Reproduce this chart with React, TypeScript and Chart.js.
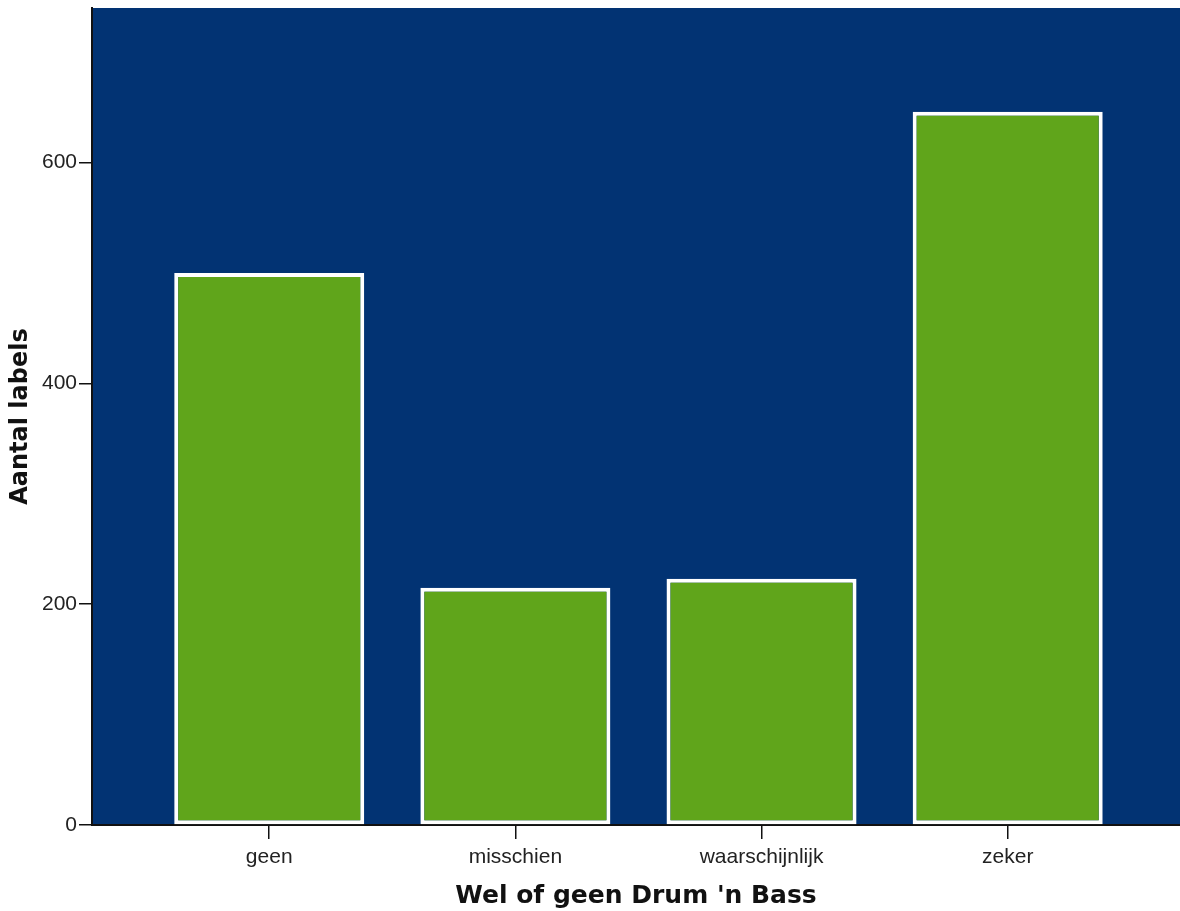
import React, { useEffect, useRef } from "react";
import { Chart, registerables } from "chart.js";

Chart.register(...registerables);

const categories = ["geen", "misschien", "waarschijnlijk", "zeker"];
const counts = [500, 215, 223, 646];
const yTicks = [0, 200, 400, 600];

const bgPlugin = {
  id: "plotBg",
  beforeDraw(chart: any) {
    const { ctx, chartArea } = chart;
    if (!chartArea) return;
    ctx.save();
    ctx.fillStyle = "#023373";
    ctx.fillRect(chartArea.left, chartArea.top, chartArea.right - chartArea.left, chartArea.bottom - chartArea.top);
    ctx.restore();
  },
};

export default function App() {
  const ref = useRef<HTMLCanvasElement>(null);
  useEffect(() => {
    if (!ref.current) return;
    const chart = new Chart(ref.current, {
      type: "bar",
      data: {
        datasets: [
          {
            data: counts.map((v, i) => ({ x: i, y: v })),
            backgroundColor: "#60a51b",
            borderColor: "#ffffff",
            borderWidth: 4,
            borderSkipped: false,
            barPercentage: 0.772,
            categoryPercentage: 1,
          },
        ],
      },
      options: {
        animation: false,
        responsive: false,
        maintainAspectRatio: false,
        layout: { padding: { top: 8, right: 0, left: 0, bottom: 0 } },
        plugins: { legend: { display: false }, tooltip: { enabled: false } },
        scales: {
          x: {
            type: "linear",
            offset: false,
            min: -0.72,
            max: 3.7,
            afterBuildTicks: (axis: any) => {
              axis.ticks = categories.map((_, i) => ({ value: i }));
            },
            afterFit: (scale: any) => {
              scale.height = 86;
              scale.paddingLeft = 0;
              scale.paddingRight = 0;
            },
            ticks: {
              autoSkip: false,
              maxRotation: 0,
              padding: 6,
              color: "#222",
              font: { family: "Liberation Sans", size: 21 },
              callback: (v: any) => categories[Math.round(Number(v))] ?? "",
            },
            grid: { offset: false, drawOnChartArea: false, drawTicks: true, tickLength: 14, color: "#111", lineWidth: 1.5 },
            border: { display: true, color: "#111", width: 2 },
            title: {
              display: true,
              text: "Wel of geen Drum 'n Bass",
              color: "#111",
              font: { family: "DejaVu Sans", size: 25, weight: "bold" },
              padding: { top: 2, bottom: 0 },
            },
          },
          y: {
            type: "linear",
            min: 0,
            max: 740,
            afterBuildTicks: (axis: any) => {
              axis.ticks = yTicks.map((v) => ({ value: v }));
            },
            afterFit: (scale: any) => {
              scale.width = 92;
              scale.paddingTop = 0;
              scale.paddingBottom = 0;
            },
            ticks: {
              padding: 2,
              color: "#222",
              font: { family: "Liberation Sans", size: 21 },
            },
            grid: { drawOnChartArea: false, drawTicks: true, tickLength: 13, color: "#111", lineWidth: 1.5 },
            border: { display: true, color: "#111", width: 2 },
            title: {
              display: true,
              text: "Aantal labels",
              color: "#111",
              font: { family: "DejaVu Sans", size: 24, weight: "bold" },
              padding: { top: 6, bottom: 2 },
            },
          },
        },
      },
      plugins: [bgPlugin],
    } as any);
    return () => chart.destroy();
  }, []);
  return (
    <div style={{ position: "fixed", left: 0, top: 0, width: 1180, height: 911, background: "#fff" }}>
      <canvas ref={ref} width={1180} height={911} style={{ display: "block" }} />
    </div>
  );
}
